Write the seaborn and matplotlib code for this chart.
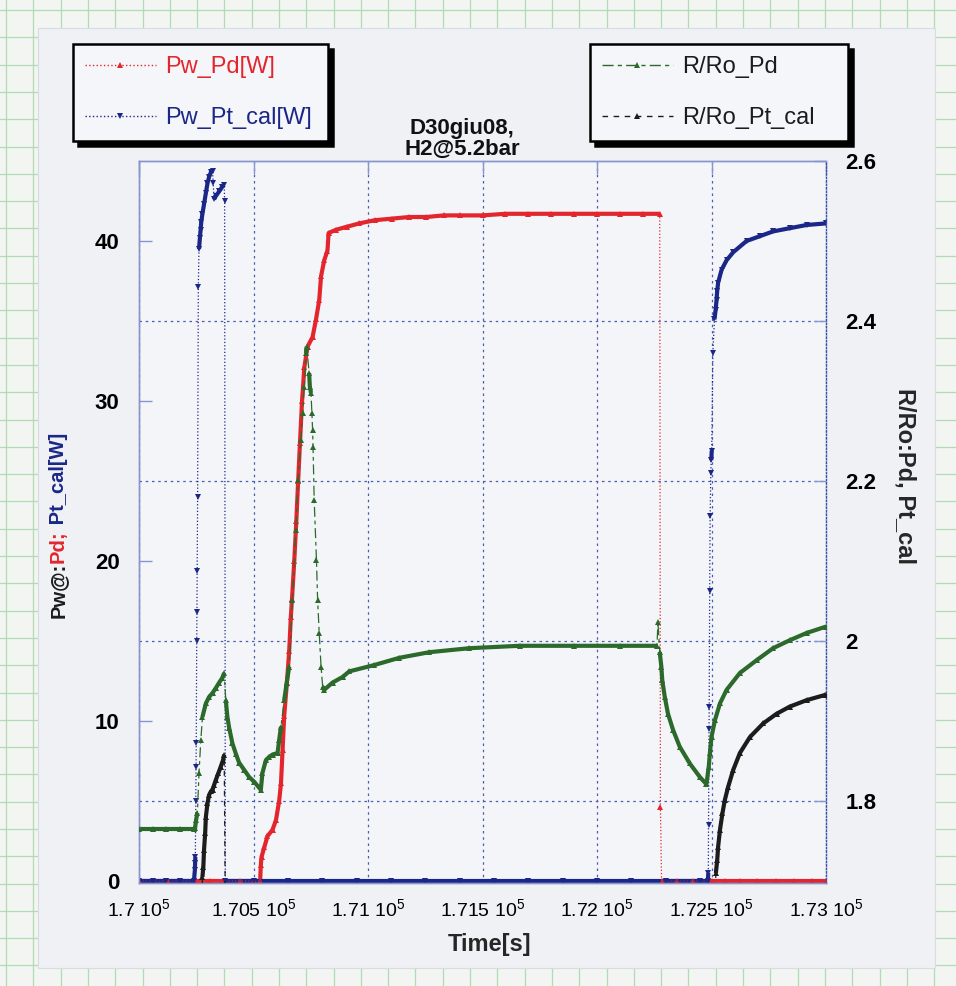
import numpy as np
import pandas as pd
import seaborn as sns
import matplotlib
matplotlib.use("Agg")
import matplotlib.pyplot as plt
from matplotlib.lines import Line2D
from matplotlib.patches import Rectangle

# ---------------- data ----------------
red_t = [170000, 170125, 170249, 170310, 170372, 170440, 170503, 170529, 170532, 170535,
         170547, 170561, 170583, 170598, 170612, 170620, 170627, 170634, 170646, 170656,
         170663, 170668, 170678, 170687, 170695, 170703, 170712, 170722, 170736, 170758,
         170773, 170787, 170795, 170809, 170823, 170828, 170860, 170910, 170962, 171030,
         171106, 171180, 171255, 171330, 171400, 171500, 171600, 171700, 171800, 171900,
         172000, 172100, 172200, 172274, 172277, 172282, 172350, 172420, 172501, 172560,
         172624, 172700, 172780, 172860, 172940, 173000]
red_v = [0, 0, 0, 0, 0, 0, 0, 0, 1.0, 1.5,
         2.1, 2.8, 3.2, 3.8, 5.0, 6.1, 8.2, 10.3, 12.4, 14.4,
         16.5, 17.6, 20.0, 22.5, 25.0, 27.4, 30.0, 32.1, 33.4, 34.0,
         35.1, 36.3, 37.8, 38.8, 39.4, 40.5, 40.7, 40.9, 41.1, 41.3,
         41.4, 41.5, 41.5, 41.6, 41.6, 41.6, 41.7, 41.7, 41.7, 41.7,
         41.7, 41.7, 41.7, 41.7, 4.6, 0, 0, 0, 0, 0,
         0, 0, 0, 0, 0, 0]

blue_t = [170000, 170060, 170120, 170180, 170240, 170244, 170245, 170246, 170248, 170249,
          170250, 170252, 170253, 170254, 170256, 170259, 170262, 170266, 170269, 170272,
          170277, 170284, 170292, 170299, 170306, 170314, 170321, 170324, 170328, 170335,
          170350, 170364, 170372, 170374, 170377, 170500, 170650, 170800, 170950, 171100,
          171250, 171400, 171550, 171700, 171850, 172000, 172150, 172300, 172450, 172484,
          172486, 172487, 172489, 172490, 172492, 172494, 172497, 172499, 172501, 172506,
          172513, 172518, 172522, 172525, 172529, 172544, 172566, 172595, 172653, 172711,
          172769, 172842, 172915, 173000]
blue_v = [0, 0, 0, 0, 0, 0.7, 1.1, 1.5, 5.0, 7.1,
          8.6, 15.0, 16.8, 19.4, 24.0, 37.1, 39.5, 40.2, 40.7, 41.2,
          41.7, 42.3, 43.0, 43.6, 44.0, 44.3, 44.4, 43.6, 42.6, 42.8,
          43.1, 43.4, 43.5, 42.5, 0, 0, 0, 0, 0, 0,
          0, 0, 0, 0, 0, 0, 0, 0, 0, 0,
          0.5, 3.5, 9.5, 10.9, 18.1, 22.8, 25.5, 26.3, 26.9, 33.0,
          35.1, 35.7, 36.3, 36.9, 37.4, 38.2, 38.8, 39.3, 40.0, 40.3,
          40.6, 40.8, 41.0, 41.1]

green_t = [170000, 170060, 170120, 170180, 170240, 170245, 170249, 170255, 170262, 170270,
           170277, 170292, 170306, 170321, 170335, 170350, 170364, 170372, 170379, 170386,
           170394, 170408, 170423, 170437, 170459, 170481, 170503, 170532, 170539, 170554,
           170568, 170583, 170605, 170612, 170620, 170634, 170645, 170656, 170670, 170685,
           170695, 170707, 170714, 170722, 170729, 170732, 170743, 170746, 170751, 170755,
           170758, 170760, 170765, 170775, 170780, 170787, 170795, 170802, 170809, 170845,
           170889, 170918, 171028, 171137, 171268, 171443, 171662, 171900, 172100, 172262,
           172266, 172274, 172281, 172285, 172296, 172310, 172332, 172361, 172405, 172449,
           172478, 172488, 172493, 172500, 172515, 172537, 172566, 172624, 172697, 172769,
           172842, 172915, 173000]
green_v = [1.765, 1.765, 1.765, 1.765, 1.765, 1.766, 1.776, 1.785, 1.835, 1.876,
           1.905, 1.922, 1.930, 1.935, 1.941, 1.948, 1.954, 1.960, 1.926, 1.905,
           1.891, 1.872, 1.859, 1.848, 1.839, 1.830, 1.824, 1.814, 1.835, 1.851,
           1.855, 1.858, 1.860, 1.876, 1.893, 1.926, 1.948, 1.968, 2.051, 2.139,
           2.201, 2.251, 2.285, 2.318, 2.360, 2.368, 2.335, 2.318, 2.310, 2.285,
           2.264, 2.243, 2.176, 2.101, 2.051, 2.010, 1.968, 1.943, 1.939, 1.948,
           1.955, 1.962, 1.970, 1.979, 1.986, 1.991, 1.994, 1.994, 1.994, 1.994,
           2.024, 1.986, 1.968, 1.951, 1.930, 1.909, 1.889, 1.868, 1.847, 1.830,
           1.821, 1.843, 1.860, 1.880, 1.901, 1.922, 1.939, 1.960, 1.976, 1.991,
           2.001, 2.010, 2.018]

black_t = [170270, 170277, 170281, 170284, 170289, 170292, 170299, 170306, 170314, 170321,
           170328, 170335, 170347, 170357, 170367, 170372, 170378, 172512, 172519, 172525,
           172529, 172537, 172548, 172558, 172573, 172595, 172624, 172668, 172726, 172784,
           172842, 172915, 172995, 173000]
black_v = [1.62, 1.705, 1.718, 1.739, 1.760, 1.780, 1.797, 1.8075, 1.812, 1.814,
           1.820, 1.826, 1.835, 1.843, 1.851, 1.858, 1.62, 1.62, 1.710, 1.726,
           1.743, 1.764, 1.785, 1.801, 1.818, 1.839, 1.860, 1.880, 1.897, 1.909,
           1.918, 1.926, 1.9325, 1.933]

x_ticks = [170000, 170500, 171000, 171500, 172000, 172500, 173000]
x_ticklabels = ["1.7 10$^5$", "1.705 10$^5$", "1.71 10$^5$", "1.715 10$^5$",
                "1.72 10$^5$", "1.725 10$^5$", "1.73 10$^5$"]
left_ticks = [0, 10, 20, 30, 40]
right_ticks = [1.8, 2.0, 2.2, 2.4, 2.6]
right_ticklabels = ["1.8", "2", "2.2", "2.4", "2.6"]

RED = "#e3262d"
BLUE = "#1b2787"
GREEN = "#2b6a2b"
BLACK = "#1c1c1c"
AXC = "#8795cc"
GRIDC = "#4c5cb0"

# ---------------- style ----------------
sns.set_theme(style="white")
plt.rcParams["font.family"] = ["Liberation Sans", "DejaVu Sans"]
plt.rcParams["mathtext.fontset"] = "custom"
plt.rcParams["mathtext.rm"] = "Liberation Sans"
plt.rcParams["mathtext.it"] = "Liberation Sans:italic"
plt.rcParams["mathtext.bf"] = "Liberation Sans:bold"

W, H = 956, 986
fig = plt.figure(figsize=(W / 100, H / 100), dpi=100, facecolor="#f3f5f2")

# graph paper underneath + pasted sheet
for xp in np.arange(6, W, 27.3):
    fig.add_artist(Line2D([xp / W, xp / W], [0, 1], color="#b3dbb3", lw=0.9,
                          transform=fig.transFigure, zorder=-3))
for yp in np.arange(10, H, 27.3):
    fig.add_artist(Line2D([0, 1], [1 - yp / H, 1 - yp / H], color="#b3dbb3", lw=0.9,
                          transform=fig.transFigure, zorder=-3))
fig.add_artist(Rectangle((38 / W, 1 - 968 / H), (935 - 38) / W, (968 - 28) / H,
                         transform=fig.transFigure, facecolor="#eff1f5",
                         edgecolor="#d8dce2", lw=0.8, zorder=-2))

ax_bottom_px, ax_top_px = 883.4, 161
ax_left_px, ax_right_px = 139, 826
ax = fig.add_axes([ax_left_px / W, 1 - ax_bottom_px / H, (ax_right_px - ax_left_px) / W,
                   (ax_bottom_px - ax_top_px) / H])
ax.set_facecolor("#f4f5f9")
ax2 = ax.twinx()

XMIN, XMAX = 170000, 173000
PX_PER_T = (ax_right_px - ax_left_px) / (XMAX - XMIN)


def band(t, v, px_per_v, a, b):
    """Split the series where consecutive samples are far apart on screen
    (sparse jumps are drawn only as thin dotted/dashed lines)."""
    tt, vv = [t[0]], [v[0]]
    for i in range(1, len(t)):
        dx = abs(t[i] - t[i - 1]) * PX_PER_T
        dy = abs(v[i] - v[i - 1]) * px_per_v
        if dy > a * dx + b:
            tt.append(np.nan)
            vv.append(np.nan)
        tt.append(t[i])
        vv.append(v[i])
    return tt, vv


def draw(axis, t, v, color, marker, ls, px_per_v, a, b):
    bt, bv = band(t, v, px_per_v, a, b)
    axis.plot(bt, bv, color=color, lw=3.0, solid_capstyle="butt", zorder=2)
    df = pd.DataFrame({"t": t, "v": v})
    sns.lineplot(data=df, x="t", y="v", ax=axis, color=color, linestyle=ls, lw=0.9,
                 marker=marker, markersize=4.5, markeredgewidth=0, estimator=None,
                 sort=False, legend=False, zorder=3)


PX_L = 16.0     # pixels per W on left axis
PX_R = 800.0    # pixels per unit on right axis
draw(ax, red_t, red_v, RED, "^", ":", PX_L, 20, 10)
draw(ax, blue_t, blue_v, BLUE, "v", ":", PX_L, 4, 10)
draw(ax2, green_t, green_v, GREEN, "^", (0, (8, 3, 3, 3)), PX_R, 3, 14)
draw(ax2, black_t, black_v, BLACK, "^", (0, (4, 4)), PX_R, 3, 20)

ax.set_xlim(XMIN, XMAX)
ax.set_ylim(-0.15, 45)
ax2.set_ylim(1.7 - 0.15 / 50, 2.6)

ax.set_xticks(x_ticks)
ax.set_xticklabels(x_ticklabels, fontsize=14)
ax.set_yticks(left_ticks)
ax.set_yticklabels([str(v) for v in left_ticks], fontsize=16, fontweight="bold")
ax.set_yticks([5, 15, 25, 35], minor=True)
ax.grid(axis="x", which="major", color=GRIDC, lw=0.9, ls=(0, (2, 3)))
ax.grid(axis="y", which="minor", color=GRIDC, lw=0.9, ls=(0, (2, 3)))
ax.grid(axis="y", which="major", visible=False)
ax.set_axisbelow(True)
ax.tick_params(axis="y", which="minor", length=0)
ax.tick_params(axis="y", which="major", direction="in", length=9, width=1, color=AXC,
               pad=14, labelcolor="black")
ax.tick_params(axis="x", direction="in", length=9, width=1, color=AXC, top=True,
               pad=11, labelcolor="black")

ax2.set_yticks(right_ticks)
ax2.set_yticklabels(right_ticklabels, fontsize=16, fontweight="bold")
ax2.tick_params(axis="y", direction="in", length=9, width=1, color=AXC, pad=14,
                labelcolor="black")

for a in (ax, ax2):
    for s in a.spines.values():
        s.set_color(AXC)
        s.set_linewidth(1)
ax.spines["right"].set_visible(False)
ax2.spines["right"].set_linestyle((0, (1, 1.5)))
ax2.spines["right"].set_color("#3d4ea6")

ax.set_xlabel("Time[s]", fontsize=17, fontweight="bold")
ax.xaxis.set_label_coords((490 - ax_left_px) / (ax_right_px - ax_left_px),
                          (ax_bottom_px - 944) / (ax_bottom_px - ax_top_px))
ax.xaxis.label.set_va("center")
ax.set_ylabel("")
ax2.set_ylabel("R/Ro:Pd, Pt_cal", fontsize=17, fontweight="bold", rotation=270)
ax2.yaxis.set_label_coords((905 - ax_left_px) / (ax_right_px - ax_left_px),
                           (ax_bottom_px - 476) / (ax_bottom_px - ax_top_px))
ax2.yaxis.label.set_va("center")

# multi-coloured left y label
renderer = fig.canvas.get_renderer()
ypos = 1 - 618 / H
for s, c in [("Pw@:", BLACK), ("Pd;", RED), (" Pt_cal[W]", BLUE)]:
    tx = fig.text(64 / W, ypos, s, rotation=90, rotation_mode="anchor", ha="left",
                  va="baseline", fontsize=14.5, fontweight="bold", color=c)
    bb = tx.get_window_extent(renderer)
    ypos = bb.y1 / fig.bbox.height

# title
fig.text(462 / W, 1 - 134 / H, "D30giu08,", ha="center", va="baseline", fontsize=16,
         fontweight="bold", color="#111111")
fig.text(462 / W, 1 - 155 / H, "H2@5.2bar", ha="center", va="baseline", fontsize=16,
         fontweight="bold", color="#111111")


def make_legend(handles, labels, x0, x1, ytop, colors):
    leg = fig.legend(handles, labels, loc="upper left",
                     bbox_to_anchor=(x0 / W, 1 - ytop / H - 0.05, (x1 - x0) / W, 0.05),
                     bbox_transform=fig.transFigure, mode="expand", fontsize=17,
                     handlelength=3.0, handletextpad=0.4, labelspacing=1.25,
                     borderpad=0.5, borderaxespad=0, frameon=True, fancybox=False,
                     shadow={"ox": 3.5, "oy": -3.5, "color": "black", "alpha": 1},
                     edgecolor="black", facecolor="#f5f6f9", framealpha=1)
    leg.get_frame().set_linewidth(1.8)
    for txt, c in zip(leg.get_texts(), colors):
        txt.set_color(c)
    return leg


h_red = Line2D([], [], color=RED, ls=":", lw=1, marker="^", ms=5, mew=0)
h_blue = Line2D([], [], color=BLUE, ls=":", lw=1, marker="v", ms=5, mew=0)
h_green = Line2D([], [], color=GREEN, ls=(0, (8, 3, 3, 3)), lw=1, marker="^", ms=5, mew=0)
h_black = Line2D([], [], color=BLACK, ls=(0, (4, 4)), lw=1, marker="^", ms=5, mew=0)
make_legend([h_red, h_blue], ["Pw_Pd[W]", "Pw_Pt_cal[W]"], 73, 328, 44, [RED, BLUE])
make_legend([h_green, h_black], ["R/Ro_Pd", "R/Ro_Pt_cal"], 590, 848, 44, [BLACK, BLACK])

fig.savefig("out.png", dpi=100, facecolor=fig.get_facecolor())
